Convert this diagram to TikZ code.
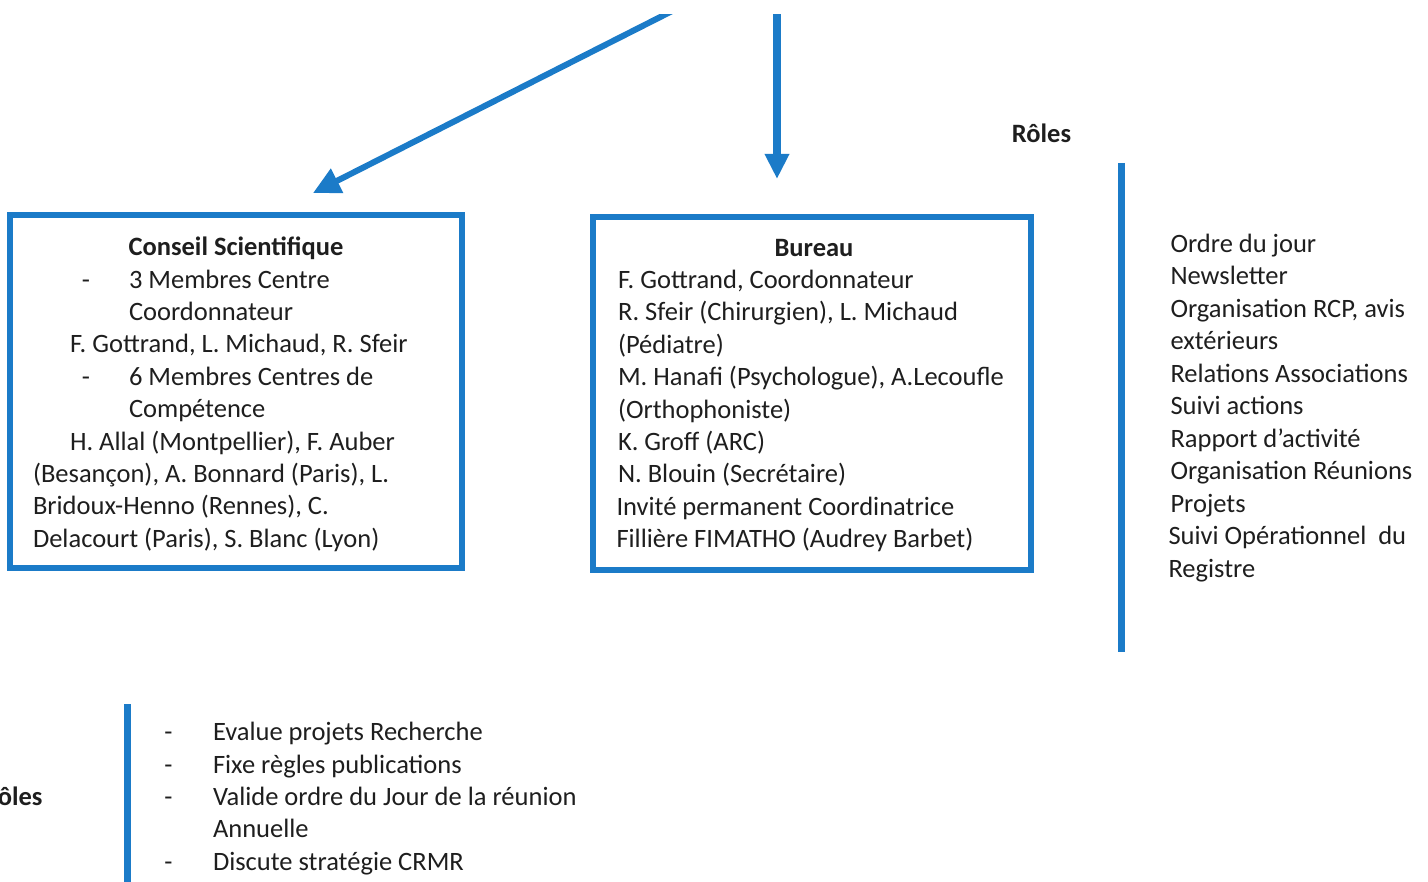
\documentclass[tikz,border=0pt]{standalone}
\usepackage{fontspec}
\setmainfont{Carlito}
\usetikzlibrary{arrows.meta}
\definecolor{rblue}{RGB}{27,123,200}
\definecolor{ink}{RGB}{30,30,30}
\begin{document}
\begin{tikzpicture}[x=1pt,y=-1pt,
  every node/.style={font=\fontsize{26.5}{32.4}\selectfont, text=ink, inner sep=0pt, outer sep=0pt},
  frame/.style={draw=rblue, line width=6pt, rectangle, inner sep=0pt},
  ln/.style={anchor=base west, yshift=-1.2pt},
  bul/.style={anchor=base, yshift=-1.2pt},
  ttl/.style={anchor=base, yshift=-1.2pt, font=\fontsize{26.5}{32.4}\selectfont\bfseries},
  conn/.style={draw=rblue, -{Triangle[length=25pt,width=23pt]}},
  bar/.style={draw=rblue, line width=7pt}]
\useasboundingbox (0,0) rectangle (1428,882);

% boxes
\node[frame, minimum width=452pt, minimum height=353pt] (cs) at (236,391.5) {};
\node[frame, minimum width=438pt, minimum height=353pt] (bu) at (812,393.5) {};

% arrows
\coordinate (s1) at (684,5);
\coordinate (s2) at (777,5);
\begin{scope}
\clip (0,15) rectangle (1428,882);
\draw[conn, line width=6pt, shorten >=48.7pt, -{Triangle[length=27pt,width=26pt]}] (s1) -- ([xshift=33.6pt]cs.north);
\draw[conn, line width=8pt, shorten >=38pt] (s2) -- (s2 |- bu.north);
\end{scope}

% bars
\coordinate (r1) at (1121,163);
\coordinate (r2) at (1121,652);
\draw[bar] (r1) -- (r2);
\coordinate (b1) at (127.5,704);
\coordinate (b2) at (127.5,882);
\draw[bar] (b1) -- (b2);

% Conseil Scientifique
\node[ttl] (cs0) at (236,254.5) {Conseil Scientifique};
\node[bul] (csd1) at (86,286.9) {-};
\node[ln] (cs1) at (129,286.9) {3 Membres Centre};
\node[ln] (cs2) at (129,319.3) {Coordonnateur};
\node[ln] (cs3) at (70,351.7) {F. Gottrand, L. Michaud, R. Sfeir};
\node[bul] (csd2) at (86,384.1) {-};
\node[ln] (cs4) at (129,384.1) {6 Membres Centres de};
\node[ln] (cs5) at (129,416.5) {Compétence};
\node[ln] (cs6) at (70,448.9) {H. Allal (Montpellier), F. Auber};
\node[ln] (cs7) at (33,481.3) {(Besançon), A. Bonnard (Paris), L.};
\node[ln] (cs8) at (33,513.7) {Bridoux-Henno (Rennes), C.};
\node[ln] (cs9) at (33,546.1) {Delacourt (Paris), S. Blanc (Lyon)};

% Bureau
\node[ttl] (bu0) at (814,255) {Bureau};
\node[ln] (bu1) at (618,287.4) {F. Gottrand, Coordonnateur};
\node[ln] (bu2) at (618,319.8) {R. Sfeir (Chirurgien), L. Michaud};
\node[ln] (bu3) at (618,352.2) {(Pédiatre)};
\node[ln] (bu4) at (618,384.6) {M. Hanafi (Psychologue), A.Lecoufle};
\node[ln] (bu5) at (618,417) {(Orthophoniste)};
\node[ln] (bu6) at (618,449.4) {K. Groff (ARC)};
\node[ln] (bu7) at (618,481.8) {N. Blouin (Secrétaire)};
\node[ln] (bu8) at (616.5,514.2) {Invité permanent Coordinatrice};
\node[ln] (bu9) at (616.5,546.6) {Fillière FIMATHO (Audrey Barbet)};

% Roles (Bureau)
\node[ttl] (rr) at (1041.5,141.7) {Rôles};
\node[ln] (rl1) at (1170.5,251) {Ordre du jour};
\node[ln] (rl2) at (1170.5,283.5) {Newsletter};
\node[ln] (rl3) at (1170.5,316) {Organisation RCP, avis};
\node[ln] (rl4) at (1170.5,348.5) {extérieurs};
\node[ln] (rl5) at (1170.5,381) {Relations Associations};
\node[ln] (rl6) at (1170.5,413.5) {Suivi actions};
\node[ln] (rl7) at (1170.5,446) {Rapport d’activité};
\node[ln] (rl8) at (1170.5,478.5) {Organisation Réunions};
\node[ln] (rl9) at (1170.5,511) {Projets};
\node[ln] (rl10) at (1168.5,543.5) {Suivi Opérationnel~~du};
\node[ln] (rl11) at (1168.5,576) {Registre};

% Roles (Conseil)
\node[ttl, anchor=base east] (rb) at (42.5,804.3) {ôles};
\node[bul] (bd1) at (168.5,739.5) {-};
\node[ln] (bl1) at (213,739.5) {Evalue projets Recherche};
\node[bul] (bd2) at (168.5,771.9) {-};
\node[ln] (bl2) at (213,771.9) {Fixe règles publications};
\node[bul] (bd3) at (168.5,804.3) {-};
\node[ln] (bl3) at (213,804.3) {Valide ordre du Jour de la réunion};
\node[ln] (bl4) at (213,836.7) {Annuelle};
\node[bul] (bd4) at (168.5,869.1) {-};
\node[ln] (bl5) at (213,869.1) {Discute stratégie CRMR};
\end{tikzpicture}
\end{document}
